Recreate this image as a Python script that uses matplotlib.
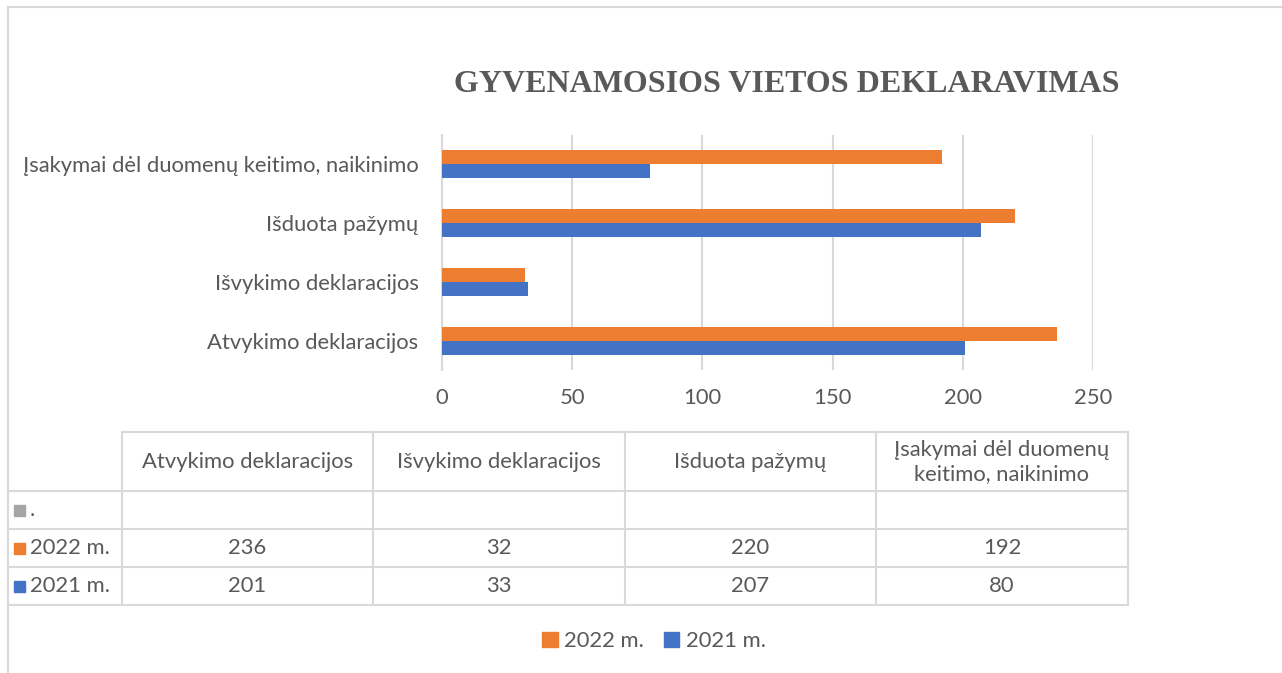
import matplotlib.pyplot as plt
import matplotlib.patches as mpatches
from matplotlib.lines import Line2D

categories = ['Atvykimo deklaracijos', 'Išvykimo deklaracijos', 'Išduota pažymų',
              'Įsakymai dėl duomenų keitimo, naikinimo']
table_headers = ['Atvykimo deklaracijos', 'Išvykimo deklaracijos', 'Išduota pažymų',
                 'Įsakymai dėl duomenų\nkeitimo, naikinimo']
v2022 = [236, 32, 220, 192]
v2021 = [201, 33, 207, 80]
xticks = [0, 50, 100, 150, 200, 250]

orange = '#ED7D31'
blue = '#4472C4'
grey = '#A5A5A5'
txt = '#595959'
linecol = '#D9D9D9'
fnt = 'Lato'
fs = 15.8

W, H = 1282, 673
fig = plt.figure(figsize=(W / 100, H / 100), dpi=100)

def fx(px):
    return px / W

def fy(py):
    return 1 - py / H

# frame of the chart object
fig.add_artist(Line2D([fx(8), fx(1282)], [fy(7), fy(7)], color=linecol, lw=1.5))
fig.add_artist(Line2D([fx(8), fx(8)], [fy(7), fy(673)], color=linecol, lw=1.5))

fig.text(fx(787), fy(85), 'GYVENAMOSIOS VIETOS DEKLARAVIMAS', ha='center', va='center',
         fontsize=23, fontweight='bold', family='Liberation Serif', color=txt)

ax = fig.add_axes([fx(442), fy(370), (1093 - 442) / W, (370 - 135) / H])
pos = range(len(categories))
h = 0.24
ax.barh([p + h / 2 for p in pos], v2022, height=h, color=orange, label='2022 m.', zorder=3)
ax.barh([p - h / 2 for p in pos], v2021, height=h, color=blue, label='2021 m.', zorder=3)
ax.set_xlim(0, 250)
ax.set_ylim(-0.5, 3.5)
ax.set_xticks(xticks)
ax.set_xticklabels([str(t) for t in xticks], family=fnt, fontsize=fs, color=txt)
ax.set_yticks(list(pos))
ax.set_yticklabels(categories, family=fnt, fontsize=fs, color=txt)
ax.tick_params(axis='both', length=0)
ax.tick_params(axis='y', pad=17)
ax.tick_params(axis='x', pad=13)
ax.grid(axis='x', color=linecol, lw=1.5, zorder=0)
for s in ['top', 'right', 'bottom']:
    ax.spines[s].set_visible(False)
ax.spines['left'].set_color(linecol)
ax.spines['left'].set_linewidth(1.5)

# data table under the chart
col_edges = [122, 373, 625, 876, 1128]
row_edges = [432, 491, 529, 567, 605]
fig.add_artist(Line2D([fx(122), fx(1128)], [fy(432), fy(432)], color=linecol, lw=1.5))
for yy in row_edges[1:]:
    fig.add_artist(Line2D([fx(8), fx(1128)], [fy(yy), fy(yy)], color=linecol, lw=1.5))
for xx in col_edges:
    fig.add_artist(Line2D([fx(xx), fx(xx)], [fy(432), fy(605)], color=linecol, lw=1.5))

for i, lab in enumerate(table_headers):
    cx = (col_edges[i] + col_edges[i + 1]) / 2
    fig.text(fx(cx), fy(462), lab, ha='center', va='center', family=fnt, fontsize=fs,
             color=txt, linespacing=1.2)

rows = [('.', grey, None), ('2022 m.', orange, v2022), ('2021 m.', blue, v2021)]
for r, (name, col, vals) in enumerate(rows):
    cy = (row_edges[r + 1] + row_edges[r + 2]) / 2
    fig.add_artist(mpatches.Rectangle((fx(14), fy(cy + 6)), 11 / W, 11 / H, color=col,
                                      transform=fig.transFigure))
    fig.text(fx(30), fy(cy), name, ha='left', va='center', family=fnt, fontsize=fs, color=txt)
    if vals is None:
        continue
    for i, v in enumerate(vals):
        cx = (col_edges[i] + col_edges[i + 1]) / 2
        fig.text(fx(cx), fy(cy), str(v), ha='center', va='center', family=fnt,
                 fontsize=fs, color=txt)

handles = [mpatches.Patch(color=orange, label='2022 m.'),
           mpatches.Patch(color=blue, label='2021 m.')]
fig.legend(handles=handles, loc='center', bbox_to_anchor=(fx(654), fy(641)), ncol=2,
           frameon=False, prop={'family': fnt, 'size': fs}, labelcolor=txt,
           handlelength=0.7, handleheight=0.7, handletextpad=0.3, columnspacing=0.9)

fig.savefig('out.png', dpi=100, facecolor='white')
